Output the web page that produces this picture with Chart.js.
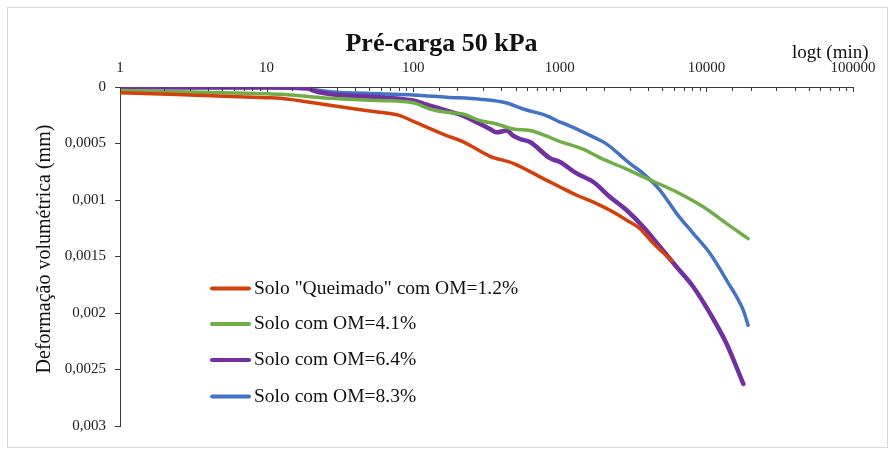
<!DOCTYPE html>
<html>
<head>
<meta charset="utf-8">
<script src="https://cdn.jsdelivr.net/npm/chart.js@4"></script>
<style>
  html, body { margin: 0; padding: 0; background: #fff; }
  #wrap { width: 895px; height: 452px; }
</style>
</head>
<body>
<div id="wrap"><canvas id="c" width="895" height="452"></canvas></div>
<script>
// Time (min) and volumetric deformation (mm) for each soil sample
const tRed = [1, 10, 12.4, 27, 59, 81, 100, 169, 218, 334, 480, 815, 1003, 1304, 1694, 2200, 2860, 3524, 4345, 5360, 5824];
const yRed = [0.00005, 0.000095, 0.0001, 0.000162, 0.000224, 0.000253, 0.000304, 0.00043, 0.000483, 0.000613, 0.000675, 0.000826, 0.000885, 0.000958, 0.001018, 0.001091, 0.001179, 0.001253, 0.001383, 0.001495, 0.00154];

const tGreen = [1, 10, 12.4, 27, 59, 100, 130, 169, 218, 286, 371, 480, 626, 815, 953, 1440, 1870, 3013, 3715, 6270, 9500, 13750, 19240];
const yGreen = [0.00003, 0.00006, 0.000065, 0.0001, 0.00012, 0.00014, 0.000195, 0.000224, 0.000239, 0.000298, 0.000327, 0.000372, 0.000385, 0.000435, 0.000472, 0.00055, 0.000625, 0.00074, 0.000796, 0.000929, 0.00106, 0.001209, 0.001342];

const tPurple = [1, 10, 19, 20.8, 27, 59, 100, 130, 169, 218, 286, 334, 371, 435, 480, 535, 626, 857, 1003, 1304, 1694, 2200, 2860, 3715, 4830, 6270, 8150, 10590, 13750, 17860];
const yPurple = [0.000003, 0.000005, 0.00001, 0.000032, 0.000062, 0.000091, 0.00012, 0.000165, 0.000209, 0.000253, 0.000327, 0.000372, 0.000401, 0.000386, 0.00043, 0.00046, 0.000487, 0.00063, 0.000664, 0.000765, 0.000841, 0.000973, 0.001091, 0.001239, 0.001416, 0.001593, 0.00177, 0.002004, 0.002274, 0.002628];

const tBlue = [1, 10, 20, 27, 59, 100, 169, 286, 435, 561, 815, 1003, 1114, 1786, 2089, 3013, 3715, 4830, 6270, 8150, 10590, 13750, 17860, 19240];
const yBlue = [0.000003, 0.000005, 0.00002, 0.000041, 0.00006, 0.00007, 0.00009, 0.000108, 0.000142, 0.000195, 0.000255, 0.00031, 0.000332, 0.000457, 0.000505, 0.000678, 0.000766, 0.000914, 0.00112, 0.001297, 0.001474, 0.001712, 0.001977, 0.002108];

const seriesLabels = ['Solo "Queimado" com OM=1.2%', 'Solo com OM=4.1%', 'Solo com OM=6.4%', 'Solo com OM=8.3%'];
const seriesColors = ['#D2400E', '#70AD47', '#7030A0', '#4472C4'];

const xTickLabels = ['1', '10', '100', '1000', '10000', '100000'];
const chartTitle = 'Pré-carga 50 kPa';
const xTitle = 'logt (min)';
const yTitle = 'Deformação volumétrica (mm)';

const SERIF = '"Liberation Serif", "Times New Roman", serif';
const AXIS = '#3a3a3a';

function pts(ts, ys) { return ts.map((t, i) => ({ x: t, y: ys[i] })); }
function fmtY(v) { return Number(v.toFixed(4)).toString().replace('.', ','); }

const pairs = [[tRed, yRed], [tGreen, yGreen], [tPurple, yPurple], [tBlue, yBlue]];

const decor = {
  id: 'decor',
  beforeDraw(chart) {
    const ctx = chart.ctx;
    ctx.save();
    ctx.fillStyle = '#fff';
    ctx.fillRect(0, 0, chart.width, chart.height);
    ctx.strokeStyle = '#d9d9d9';
    ctx.lineWidth = 1;
    ctx.strokeRect(7.5, 7.5, 880, 440);
    ctx.restore();
  },
  afterDraw(chart) {
    const ctx = chart.ctx;
    const xs = chart.scales.x;
    const top = chart.chartArea.top;
    ctx.save();
    // inward tick marks on the log axis
    ctx.strokeStyle = AXIS;
    ctx.lineWidth = 1;
    xs.ticks.forEach(t => {
      const px = Math.round(xs.getPixelForValue(t.value)) + 0.5;
      const major = Math.abs(Math.log10(t.value) - Math.round(Math.log10(t.value))) < 1e-9;
      ctx.beginPath();
      ctx.moveTo(px, top);
      ctx.lineTo(px, top + (major ? 5 : 4));
      ctx.stroke();
    });
    // axis titles
    ctx.fillStyle = '#111';
    ctx.font = '19px ' + SERIF;
    ctx.textAlign = 'left';
    ctx.textBaseline = 'alphabetic';
    ctx.fillText(xTitle, 792, 57.5);
    ctx.save();
    ctx.translate(50, 249);
    ctx.rotate(-Math.PI / 2);
    ctx.textAlign = 'center';
    ctx.font = '20px ' + SERIF;
    ctx.fillText(yTitle, 0, 0);
    ctx.restore();
    // legend inside the plot
    const rows = [288.5, 324, 360, 396.5];
    ctx.font = '19.5px ' + SERIF;
    ctx.textBaseline = 'middle';
    ctx.textAlign = 'left';
    chart.data.datasets.forEach((ds, i) => {
      ctx.strokeStyle = ds.borderColor;
      ctx.lineWidth = 4;
      ctx.lineCap = 'round';
      ctx.beginPath();
      ctx.moveTo(212, rows[i]);
      ctx.lineTo(249, rows[i]);
      ctx.stroke();
      ctx.fillStyle = '#111';
      ctx.fillText(ds.label, 254, rows[i]);
    });
    ctx.restore();
  }
};

new Chart(document.getElementById('c'), {
  type: 'line',
  data: {
    datasets: pairs.map((p, i) => ({
      label: seriesLabels[i],
      data: pts(p[0], p[1]),
      borderColor: seriesColors[i],
      backgroundColor: seriesColors[i],
      borderWidth: i === 2 ? 4.5 : 3.5,
      pointRadius: 0,
      fill: false,
      cubicInterpolationMode: 'monotone',
      borderCapStyle: 'round',
      borderJoinStyle: 'round'
    }))
  },
  options: {
    responsive: false,
    animation: false,
    layout: { padding: { left: 30, right: 42, top: 0, bottom: 26 } },
    plugins: {
      legend: { display: false },
      tooltip: { enabled: false },
      title: {
        display: true,
        text: chartTitle,
        color: '#111',
        font: { family: SERIF, size: 26, weight: 'bold', lineHeight: 1.2 },
        padding: { top: 29, bottom: 0 }
      }
    },
    scales: {
      x: {
        type: 'logarithmic',
        position: 'top',
        min: 1,
        max: 100000,
        grid: { display: false, drawTicks: false },
        border: { display: true, color: AXIS, width: 1 },
        ticks: {
          autoSkip: false,
          maxRotation: 0,
          padding: 9.5,
          color: '#222',
          font: { family: SERIF, size: 15 },
          callback: (v) => {
            const s = String(Math.round(v));
            return xTickLabels.includes(s) && Math.abs(v - Math.round(v)) < 1e-9 ? s : '';
          }
        },
        afterFit: (s) => { s.height = 26.8; }
      },
      y: {
        type: 'linear',
        reverse: true,
        min: 0,
        max: 0.003,
        grid: { drawOnChartArea: false, drawTicks: true, tickLength: 5, color: AXIS },
        border: { display: true, color: AXIS, width: 1 },
        ticks: {
          stepSize: 0.0005,
          padding: 9,
          color: '#222',
          font: { family: SERIF, size: 15 },
          callback: (v) => fmtY(v)
        },
        afterFit: (s) => { s.width = 90; }
      }
    }
  },
  plugins: [decor]
});
</script>
</body>
</html>
